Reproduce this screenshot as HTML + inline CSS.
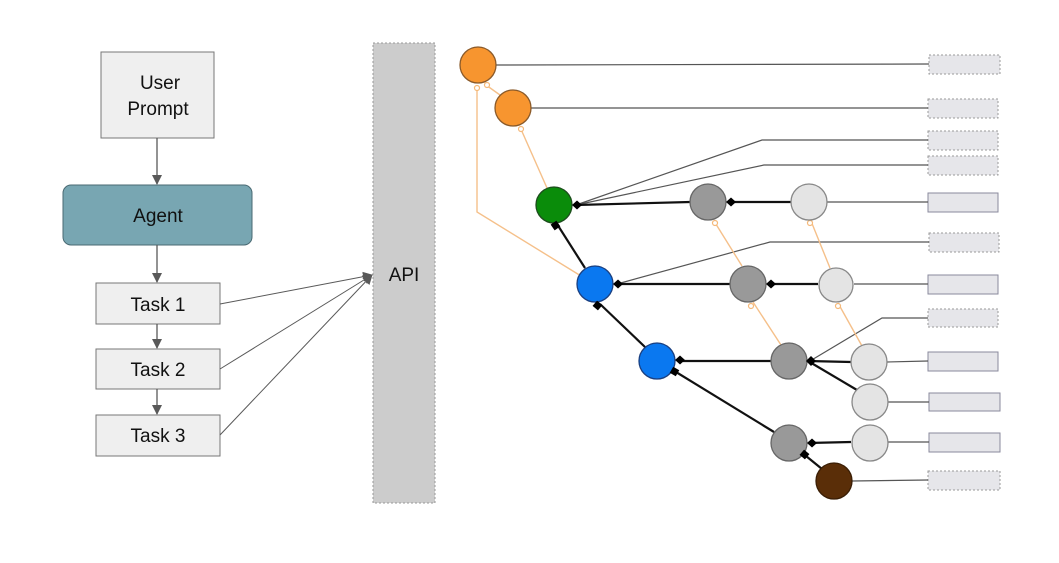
<!DOCTYPE html>
<html><head><meta charset="utf-8"><style>
html,body{margin:0;padding:0;background:#fff;}
svg{display:block;font-family:"Liberation Sans",Arial,sans-serif;}
</style></head><body>
<svg width="1059" height="563" viewBox="0 0 1059 563" xmlns="http://www.w3.org/2000/svg">
<defs>
<marker id="ar" markerWidth="10" markerHeight="10" refX="9" refY="5" orient="auto" markerUnits="userSpaceOnUse"><path d="M0,0 L10,5 L0,10 z" fill="#595959"/></marker>
</defs>

<!-- left flow -->
<rect x="101" y="52" width="113" height="86" fill="#efefef" stroke="#777" stroke-width="1"/>
<text x="160" y="89" font-size="19" text-anchor="middle" fill="#111">User</text>
<text x="158" y="115" font-size="19" text-anchor="middle" fill="#111">Prompt</text>
<line x1="157" y1="138" x2="157" y2="184" stroke="#595959" stroke-width="1.3" marker-end="url(#ar)"/>
<rect x="63" y="185" width="189" height="60" rx="8" fill="#78a6b2" stroke="#4a6a73" stroke-width="1"/>
<text x="158" y="222" font-size="19" text-anchor="middle" fill="#111">Agent</text>
<line x1="157" y1="245" x2="157" y2="282" stroke="#595959" stroke-width="1.3" marker-end="url(#ar)"/>
<rect x="96" y="283" width="124" height="41" fill="#efefef" stroke="#777"/>
<text x="158" y="311" font-size="19" text-anchor="middle" fill="#111">Task 1</text>
<line x1="157" y1="324" x2="157" y2="348" stroke="#595959" stroke-width="1.3" marker-end="url(#ar)"/>
<rect x="96" y="349" width="124" height="40" fill="#efefef" stroke="#777"/>
<text x="158" y="376" font-size="19" text-anchor="middle" fill="#111">Task 2</text>
<line x1="157" y1="389" x2="157" y2="414" stroke="#595959" stroke-width="1.3" marker-end="url(#ar)"/>
<rect x="96" y="415" width="124" height="41" fill="#efefef" stroke="#777"/>
<text x="158" y="442" font-size="19" text-anchor="middle" fill="#111">Task 3</text>

<rect x="373" y="43" width="62" height="460" fill="#cccccc" stroke="#999" stroke-dasharray="2,2"/>
<text x="404" y="281" font-size="19" text-anchor="middle" fill="#111">API</text>
<line x1="220" y1="304" x2="372" y2="275" stroke="#595959" stroke-width="1" marker-end="url(#ar)"/>
<line x1="220" y1="369" x2="372" y2="275" stroke="#595959" stroke-width="1" marker-end="url(#ar)"/>
<line x1="220" y1="435" x2="372" y2="275" stroke="#595959" stroke-width="1" marker-end="url(#ar)"/>

<!-- right boxes -->
<g fill="#e6e6ea" stroke-width="1">
<rect x="929" y="55" width="71" height="19" stroke="#999" stroke-dasharray="2,2"/>
<rect x="928" y="99" width="70" height="19" stroke="#999" stroke-dasharray="2,2"/>
<rect x="928" y="131" width="70" height="19" stroke="#999" stroke-dasharray="2,2"/>
<rect x="928" y="156" width="70" height="19" stroke="#999" stroke-dasharray="2,2"/>
<rect x="928" y="193" width="70" height="19" stroke="#8a8a9c"/>
<rect x="929" y="233" width="70" height="19" stroke="#999" stroke-dasharray="2,2"/>
<rect x="928" y="275" width="70" height="19" stroke="#8a8a9c"/>
<rect x="928" y="309" width="70" height="18" stroke="#999" stroke-dasharray="2,2"/>
<rect x="928" y="352" width="70" height="19" stroke="#8a8a9c"/>
<rect x="929" y="393" width="71" height="18" stroke="#8a8a9c"/>
<rect x="929" y="433" width="71" height="19" stroke="#8a8a9c"/>
<rect x="928" y="471" width="72" height="19" stroke="#999" stroke-dasharray="2,2"/>
</g>

<!-- thin grey connectors to boxes -->
<g stroke="#555" stroke-width="1.2" fill="none">
<line x1="496" y1="65" x2="929" y2="64"/>
<line x1="531" y1="108" x2="928" y2="108"/>
<polyline points="576,205 762,140 928,140"/>
<polyline points="576,205 764,165 928,165"/>
<line x1="827" y1="202" x2="928" y2="202"/>
<polyline points="617,284 770,242 929,242"/>
<line x1="854" y1="284" x2="928" y2="284"/>
<polyline points="810,361 882,318 928,318"/>
<line x1="887" y1="362" x2="928" y2="361"/>
<line x1="888" y1="402" x2="929" y2="402"/>
<line x1="888" y1="442" x2="929" y2="442"/>
<line x1="852" y1="481" x2="928" y2="480"/>
</g>

<!-- orange connectors -->
<g stroke="#f5c08a" stroke-width="1.4" fill="none">
<polyline points="477,86 477,212 581,276"/>
<line x1="486" y1="85" x2="500" y2="95"/>
<line x1="520" y1="127" x2="547" y2="188"/>
<line x1="714" y1="221" x2="742" y2="266"/>
<line x1="811" y1="221" x2="830" y2="268"/>
<line x1="753" y1="302" x2="781" y2="345"/>
<line x1="838" y1="303" x2="862" y2="346"/>
</g>
<g fill="#fff" stroke="#f5b97a" stroke-width="1.2">
<circle cx="477" cy="88" r="2.5"/><circle cx="487" cy="85" r="2.5"/><circle cx="521" cy="129" r="2.5"/>
<circle cx="715" cy="223" r="2.5"/><circle cx="810" cy="223" r="2.5"/>
<circle cx="751" cy="306" r="2.5"/><circle cx="838" cy="306" r="2.5"/>
</g>

<!-- thick black connectors -->
<g stroke="#111" stroke-width="2.2" fill="none">
<line x1="690" y1="202" x2="576" y2="205"/>
<line x1="791" y1="202" x2="730" y2="202"/>
<line x1="730" y1="284" x2="617" y2="284"/>
<line x1="818" y1="284" x2="770" y2="284"/>
<line x1="771" y1="361" x2="679" y2="361"/>
<line x1="851" y1="362" x2="808" y2="361"/>
<line x1="857" y1="390" x2="808" y2="361"/>
<line x1="851" y1="442" x2="808" y2="443"/>
<line x1="585" y1="268" x2="557" y2="224"/>
<line x1="645" y1="347" x2="600" y2="304"/>
<line x1="774" y1="432" x2="676" y2="372"/>
<line x1="822" y1="469" x2="806" y2="456"/>
</g>

<!-- nodes -->
<g stroke-width="1.3">
<circle cx="478" cy="65" r="18" fill="#f7952f" stroke="#8a5a2a"/>
<circle cx="513" cy="108" r="18" fill="#f7952f" stroke="#8a5a2a"/>
<circle cx="554" cy="205" r="18" fill="#0a8c0a" stroke="#1d4d1d"/>
<circle cx="708" cy="202" r="18" fill="#999" stroke="#666"/>
<circle cx="809" cy="202" r="18" fill="#e4e4e4" stroke="#888"/>
<circle cx="595" cy="284" r="18" fill="#0a78f0" stroke="#1a3f80"/>
<circle cx="748" cy="284" r="18" fill="#999" stroke="#666"/>
<circle cx="836" cy="285" r="17" fill="#e4e4e4" stroke="#888"/>
<circle cx="657" cy="361" r="18" fill="#0a78f0" stroke="#1a3f80"/>
<circle cx="789" cy="361" r="18" fill="#999" stroke="#666"/>
<circle cx="869" cy="362" r="18" fill="#e4e4e4" stroke="#888"/>
<circle cx="870" cy="402" r="18" fill="#e4e4e4" stroke="#888"/>
<circle cx="789" cy="443" r="18" fill="#999" stroke="#666"/>
<circle cx="870" cy="443" r="18" fill="#e4e4e4" stroke="#888"/>
<circle cx="834" cy="481" r="18" fill="#5a2e08" stroke="#3a1e05"/>
</g>

<!-- diamond markers -->
<g fill="#000">
<path d="M572,205 l5,-4.5 l5,4.5 l-5,4.5z"/>
<path d="M726,202 l5,-4.5 l5,4.5 l-5,4.5z"/>
<path d="M613,284 l5,-4.5 l5,4.5 l-5,4.5z"/>
<path d="M766,284 l5,-4.5 l5,4.5 l-5,4.5z"/>
<path d="M675,360 l5,-4.5 l5,4.5 l-5,4.5z"/>
<path d="M806,361 l5,-5 l5,5 l-5,5z"/>
<path d="M807,443 l5,-4.5 l5,4.5 l-5,4.5z"/>
</g>
<!-- square markers -->
<g fill="#000">
<rect x="552" y="222" width="7" height="7" transform="rotate(-35 555.5 225.5)"/>
<rect x="594" y="302" width="7" height="7" transform="rotate(40 597.5 305.5)"/>
<rect x="671" y="368" width="7" height="7" transform="rotate(30 674.5 371.5)"/>
<rect x="801" y="451" width="7" height="7" transform="rotate(40 804.5 454.5)"/>
</g>
</svg>
</body></html>
